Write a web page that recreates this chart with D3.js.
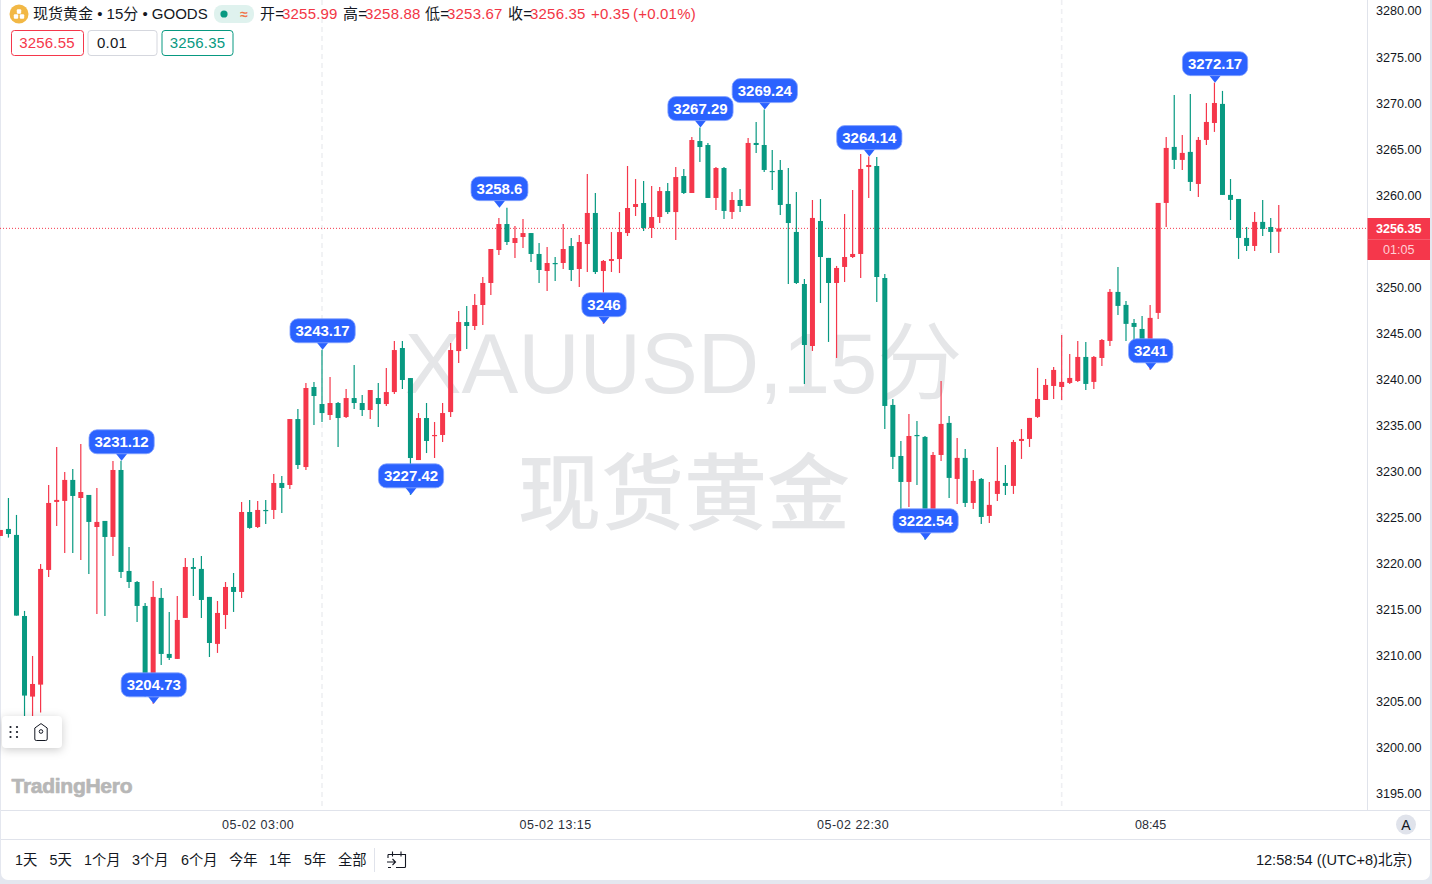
<!DOCTYPE html>
<html><head><meta charset="utf-8">
<script src="https://cdnjs.cloudflare.com/ajax/libs/d3/7.8.5/d3.min.js"></script>
<style>
html,body{margin:0;padding:0;background:#e4e7ef;overflow:hidden}
svg{display:block}
text{font-family:"Liberation Sans","Noto Sans CJK SC",sans-serif}
</style></head><body>
<svg id="c" width="1432" height="884"></svg>
<script>
const opens=[3222.96,3223.72,3223.07,3214.27,3205.52,3206.82,3219.27,3226.65,3226.76,3229.04,
3227.08,3227.41,3223.93,3224.59,3222.85,3230.12,3219.16,3217.96,3215.36,3206.00,
3216.23,3210.15,3209.61,3214.06,3219.59,3219.38,3216.34,3211.24,3214.38,3217.42,
3216.88,3225.56,3223.93,3225.78,3225.78,3228.71,3228.49,3235.65,3230.44,3239.13,
3237.28,3236.09,3237.39,3235.87,3237.93,3237.39,3236.63,3237.93,3237.28,3238.58,
3243.36,3240.10,3231.20,3235.76,3233.81,3233.92,3236.41,3243.03,3246.18,3245.75,
3248.03,3250.42,3254.00,3256.82,3254.76,3255.41,3255.84,3253.57,3251.72,3252.59,
3252.59,3254.43,3251.94,3254.65,3258.02,3251.72,3252.81,3253.02,3255.84,3258.67,
3259.10,3256.39,3257.58,3260.40,3258.12,3262.03,3260.19,3265.83,3265.40,3259.65,
3262.90,3258.13,3259.43,3258.78,3265.62,3265.40,3262.58,3262.69,3259.00,3255.96,
3250.31,3243.58,3257.15,3253.14,3250.42,3252.16,3253.24,3253.57,3263.01,3263.12,
3250.96,3237.18,3231.64,3228.82,3233.92,3233.71,3225.56,3231.75,3235.23,3229.15,
3231.43,3226.54,3229.15,3225.13,3227.52,3228.71,3228.39,3233.27,3233.49,3235.88,
3237.72,3239.24,3239.13,3239.57,3239.78,3242.39,3239.68,3242.28,3244.13,3249.45,
3248.04,3246.08,3245.43,3244.02,3247.17,3259.11,3265.19,3263.78,3264.65,3261.17,
3265.95,3267.79,3269.86,3259.98,3259.54,3255.31,3254.44,3257.05,3256.50,3255.99];
const closes=[3223.61,3223.17,3214.31,3205.63,3206.89,3219.38,3226.54,3226.87,3229.04,3227.30,
3227.73,3224.48,3224.48,3222.85,3230.12,3219.05,3217.96,3215.36,3206.24,3216.34,
3210.15,3209.72,3213.84,3219.59,3219.38,3216.01,3211.34,3214.60,3217.42,3216.88,
3225.56,3223.83,3225.78,3225.67,3228.71,3228.17,3235.65,3230.66,3239.02,3238.15,
3236.30,3237.39,3235.76,3237.93,3237.39,3236.63,3238.80,3237.28,3238.58,3243.14,
3239.89,3231.42,3235.76,3233.27,3233.92,3236.30,3243.14,3246.18,3245.75,3248.03,
3250.42,3254.11,3256.82,3254.87,3255.30,3255.84,3253.57,3251.83,3252.59,3252.48,
3254.11,3251.83,3254.87,3258.02,3251.61,3252.81,3253.02,3255.95,3258.56,3258.99,
3256.39,3257.58,3260.40,3258.12,3261.92,3260.19,3265.94,3265.18,3259.65,3262.90,
3258.24,3259.43,3258.78,3265.62,3265.40,3262.69,3262.47,3258.89,3256.93,3250.42,
3243.69,3257.48,3253.24,3250.42,3252.05,3253.24,3253.57,3262.80,3263.23,3251.07,
3237.07,3231.54,3228.82,3233.81,3233.81,3225.56,3231.75,3235.12,3229.26,3231.43,
3226.54,3228.93,3225.02,3226.33,3228.93,3228.39,3233.16,3233.49,3235.77,3237.83,
3239.35,3240.98,3239.68,3240.11,3242.39,3239.46,3242.39,3244.23,3249.45,3247.93,
3245.98,3245.65,3244.23,3246.63,3259.11,3265.08,3263.78,3264.54,3261.39,3265.95,
3267.90,3269.96,3259.98,3259.44,3255.31,3254.44,3257.05,3256.29,3255.96,3256.35];
const highs=[3223.61,3227.08,3225.24,3214.82,3209.93,3219.92,3228.49,3232.62,3229.90,3230.23,
3232.94,3227.41,3228.17,3224.59,3231.10,3231.12,3221.76,3218.07,3215.69,3218.07,
3217.31,3214.71,3216.45,3220.57,3220.57,3220.79,3216.34,3215.90,3217.96,3218.94,
3226.65,3226.87,3226.76,3226.86,3229.69,3229.47,3235.65,3236.74,3239.56,3239.67,
3243.17,3240.21,3237.50,3238.91,3241.51,3238.26,3238.80,3239.56,3241.19,3244.12,
3244.12,3240.10,3236.30,3237.39,3235.33,3237.39,3243.90,3247.38,3247.92,3249.23,
3251.07,3254.11,3257.47,3258.60,3256.60,3257.36,3255.84,3254.76,3254.33,3253.24,
3256.82,3255.30,3255.63,3262.25,3260.19,3252.91,3255.95,3258.12,3263.12,3261.71,
3261.49,3260.95,3260.84,3261.27,3263.01,3262.79,3266.26,3267.29,3265.62,3263.01,
3263.01,3260.30,3260.62,3266.16,3267.90,3269.24,3264.86,3263.77,3262.90,3260.30,
3250.86,3259.43,3259.54,3253.14,3252.27,3257.91,3260.52,3264.42,3264.14,3264.10,
3251.40,3237.83,3233.27,3236.20,3235.44,3233.81,3232.08,3239.78,3235.99,3233.60,
3232.40,3230.12,3229.26,3228.82,3232.62,3230.67,3233.38,3234.57,3235.77,3241.20,
3240.00,3241.30,3244.78,3242.72,3244.13,3244.02,3242.50,3244.34,3249.78,3252.16,
3248.47,3246.52,3246.84,3248.04,3259.11,3266.27,3270.83,3266.49,3270.94,3266.27,
3269.96,3272.17,3271.27,3261.71,3259.54,3256.50,3258.13,3259.44,3257.48,3258.88];
const lows=[3222.96,3222.78,3214.31,3202.50,3202.50,3203.78,3218.51,3224.04,3221.11,3221.11,
3220.35,3218.83,3214.49,3214.27,3220.79,3218.40,3217.31,3213.62,3205.50,3204.73,
3208.96,3209.50,3209.61,3214.06,3216.45,3214.06,3209.82,3210.26,3212.86,3214.71,
3216.23,3223.75,3223.83,3224.26,3224.80,3225.45,3228.06,3230.23,3230.12,3235.00,
3235.33,3235.55,3232.61,3235.76,3236.74,3235.98,3235.65,3234.79,3237.06,3238.37,
3238.91,3227.42,3231.20,3231.96,3231.42,3233.16,3235.87,3241.73,3243.25,3245.31,
3245.86,3249.12,3253.46,3254.54,3253.13,3254.22,3252.70,3250.42,3249.55,3250.64,
3251.94,3250.64,3249.98,3251.61,3251.39,3246.00,3251.61,3251.50,3255.52,3257.69,
3256.06,3255.30,3256.93,3257.91,3255.09,3260.08,3260.19,3263.56,3259.65,3258.35,
3257.37,3257.37,3258.13,3258.78,3264.53,3262.47,3260.52,3257.80,3250.31,3250.31,
3239.46,3243.04,3248.25,3244.02,3242.28,3250.53,3253.14,3250.96,3259.65,3248.36,
3234.57,3230.23,3225.67,3226.11,3228.50,3222.54,3225.40,3231.10,3227.09,3226.43,
3226.11,3225.89,3224.26,3224.37,3226.76,3227.41,3227.52,3231.32,3232.62,3235.77,
3237.72,3237.83,3237.72,3239.46,3239.68,3238.81,3238.92,3241.41,3243.59,3246.95,
3244.13,3244.24,3243.50,3241.00,3246.52,3256.50,3262.80,3262.69,3260.41,3259.76,
3265.40,3266.82,3259.98,3257.26,3253.03,3253.90,3253.90,3255.53,3253.68,3253.67];
const yTicks=[3195,3200,3205,3210,3215,3220,3225,3230,3235,3240,3245,3250,3260,3265,3270,3275,3280];
const xTickIdx=[32,69,106,143];
const xTickLabels=["05-02 03:00","05-02 13:15","05-02 22:30","08:45"];
const gridIdx=[40,132];
const calloutIdx=[15,19,40,51,62,75,87,95,108,115,143,151];
const calloutVal=[3231.12,3204.73,3243.17,3227.42,3258.6,3246,3267.29,3269.24,3264.14,3222.54,3241,3272.17];
const calloutTxt=["3231.12","3204.73","3243.17","3227.42","3258.6","3246","3267.29","3269.24","3264.14","3222.54","3241","3272.17"];
const lastPrice=3256.35;
const rangeLabels=["1天","5天","1个月","3个月","6个月","今年","1年","5年","全部"];
const rangeX=[15,49.5,84,132,181,229,269,304,338];
const ohlcLabels=[["开=","#131722",260],["3255.99","#f23645",282],["高=","#131722",343],["3258.88","#f23645",365],["低=","#131722",425],["3253.67","#f23645",447],["收=","#131722",508],["3256.35","#f23645",530],["+0.35","#f23645",591],["(+0.01%)","#f23645",633]];

const RED="#f5374b",GREEN="#089981",LINE="#e0e3eb",INK="#131722",BLUE="#2b62ff";
const svg=d3.select("#c");
const x=d3.scalePoint().domain(d3.range(opens.length)).range([0.4,0.4+8.04*(opens.length-1)]);
const y=d3.scaleLinear().domain([3195,3280]).range([793.5,10.5]);

// panel
svg.append("rect").attr("x",1).attr("y",-10).attr("width",1429).attr("height",890).attr("rx",7).attr("fill","#fff");

// grid
svg.append("g").selectAll("line").data(gridIdx).join("line")
 .attr("x1",d=>x(d)).attr("x2",d=>x(d)).attr("y1",0).attr("y2",810)
 .attr("stroke","#eeeff2").attr("stroke-width",1.6).attr("stroke-dasharray","5 4");

// watermark
svg.append("text").attr("x",683.5).attr("y",393).attr("text-anchor","middle").attr("font-size",85).attr("fill","#e5e6e8").text("XAUUSD,15分");
svg.append("text").attr("x",684).attr("y",523).attr("text-anchor","middle").attr("font-size",83).attr("font-weight",500).attr("fill","#e5e6e8").text("现货黄金");

// price line
svg.append("line").attr("x1",0).attr("x2",1367).attr("y1",y(lastPrice)).attr("y2",y(lastPrice))
 .attr("stroke",RED).attr("stroke-width",1).attr("stroke-dasharray","1 2");

// candles
const idx=d3.range(opens.length);
const col=i=>closes[i]>=opens[i]?RED:GREEN;
const cg=svg.append("g");
cg.selectAll("line").data(idx).join("line")
 .attr("x1",i=>x(i)).attr("x2",i=>x(i)).attr("y1",i=>y(highs[i])).attr("y2",i=>y(lows[i]))
 .attr("stroke",col).attr("stroke-width",1.2);
cg.selectAll("rect").data(idx).join("rect")
 .attr("x",i=>x(i)-2.5).attr("width",5)
 .attr("y",i=>y(Math.max(opens[i],closes[i])))
 .attr("height",i=>Math.max(1.2,Math.abs(y(opens[i])-y(closes[i]))))
 .attr("fill",col);

// callouts
const cog=svg.append("g").selectAll("g").data(d3.range(calloutIdx.length)).join("g")
 .attr("transform",k=>`translate(${x(calloutIdx[k])+0.6},${y(calloutVal[k])})`);
cog.append("path").attr("d","M-6,-7.5L0,0L6,-7.5Z").attr("fill",BLUE);
cog.append("rect").attr("y",-31).attr("height",24).attr("rx",8)
 .attr("fill",BLUE).attr("stroke","#85a3ff").attr("stroke-width",0.8);
const coTxt=cog.append("text").attr("y",-13.8).attr("text-anchor","middle").attr("font-size",15).attr("font-weight",700).attr("fill","#fff").text(k=>calloutTxt[k]);
coTxt.each(function(k){const w=this.getComputedTextLength()+11;
 d3.select(this.parentNode).select("rect").attr("x",-w/2).attr("width",w);});

// right axis
svg.append("rect").attr("x",1367).attr("y",0).attr("width",63).attr("height",810).attr("fill","#fff");
svg.append("line").attr("x1",1367.5).attr("x2",1367.5).attr("y1",0).attr("y2",810).attr("stroke",LINE);
const yAxis=svg.append("g").attr("transform","translate(1368,0.4)")
 .call(d3.axisRight(y).tickValues(yTicks).tickFormat(d3.format(".2f")).tickSize(0).tickPadding(8));
yAxis.select(".domain").remove();
yAxis.selectAll("text").attr("font-size",12.6).attr("font-family",null).attr("fill",INK);

// price tag
svg.append("rect").attr("x",1367.5).attr("y",218).attr("width",62.5).attr("height",42).attr("fill",RED);
svg.append("line").attr("x1",1367.5).attr("x2",1430).attr("y1",239.5).attr("y2",239.5).attr("stroke","#f7707f").attr("stroke-width",0.6);
svg.append("text").attr("x",1398.7).attr("y",233).attr("text-anchor","middle").attr("font-size",12.6).attr("font-weight",700).attr("fill","#fff").text(d3.format(".2f")(lastPrice));
svg.append("text").attr("x",1398.7).attr("y",254).attr("text-anchor","middle").attr("font-size",12.6).attr("fill","#ffd0d5").text("01:05");

// x axis
svg.append("line").attr("x1",1).attr("x2",1430).attr("y1",810.5).attr("y2",810.5).attr("stroke",LINE);
svg.append("line").attr("x1",1).attr("x2",1430).attr("y1",839.5).attr("y2",839.5).attr("stroke",LINE);
const xAxis=svg.append("g").attr("transform","translate(0,811.4)")
 .call(d3.axisBottom(x).tickValues(xTickIdx).tickFormat((d,i)=>xTickLabels[i]).tickSize(0).tickPadding(9));
xAxis.select(".domain").remove();
xAxis.selectAll("text").attr("font-size",12.5).attr("font-family",null).attr("fill","#2a2e39")
 .attr("letter-spacing",(d,i)=>xTickLabels[i].length>5?0.5:0);
svg.append("circle").attr("cx",1406).attr("cy",824.5).attr("r",10).attr("fill","#e0e3eb");
svg.append("text").attr("x",1406).attr("y",829.5).attr("text-anchor","middle").attr("font-size",14).attr("fill",INK).text("A");

// legend
svg.append("circle").attr("cx",19).attr("cy",14).attr("r",9.5).attr("fill","#f2b845");
[[16,16.5],[22,16.5],[19,11.5]].forEach(p=>svg.append("rect").attr("x",p[0]-2.2).attr("y",p[1]-2.2).attr("width",4.4).attr("height",4.4).attr("rx",1).attr("fill","#fff"));
svg.append("text").attr("x",33).attr("y",19).attr("font-size",15).attr("fill",INK).text("现货黄金 • 15分 • GOODS");
svg.append("rect").attr("x",214).attr("y",5).attr("width",40).attr("height",18).attr("rx",8).attr("fill","#dff2ee");
svg.append("circle").attr("cx",224).attr("cy",14).attr("r",3.6).attr("fill",GREEN);
svg.append("text").attr("x",244).attr("y",18.5).attr("text-anchor","middle").attr("font-size",14).attr("font-weight",700).attr("fill","#f0744a").text("≈");
svg.append("g").selectAll("text").data(ohlcLabels).join("text")
 .attr("x",d=>d[2]).attr("y",19).attr("font-size",15).attr("letter-spacing",0.2).attr("fill",d=>d[1]).text(d=>d[0]);

const btns=[[11.5,72,"3256.55","#f5374b","#f5374b",47,"middle"],[88,69,"0.01","#d5d7de",INK,97,"start"],[162,71,"3256.35",GREEN,GREEN,197.5,"middle"]];
btns.forEach(b=>{
 svg.append("rect").attr("x",b[0]).attr("y",30.5).attr("width",b[1]).attr("height",25).attr("rx",3).attr("fill","#fff").attr("stroke",b[3]);
 svg.append("text").attr("x",b[5]).attr("y",48).attr("text-anchor",b[6]).attr("font-size",15).attr("letter-spacing",0.2).attr("fill",b[4]).text(b[2]);
});

// drawing toolbar
svg.append("rect").attr("x",2).attr("y",716).attr("width",60).attr("height",32).attr("rx",4).attr("fill","#fff").style("filter","drop-shadow(0 2px 5px rgba(0,0,0,.2))");
[10.5,17].forEach(cx=>[727,732,737].forEach(cy=>svg.append("circle").attr("cx",cx).attr("cy",cy).attr("r",1.1).attr("fill",INK)));
svg.append("path").attr("d","M34.8,739V728L41,723.6L47.2,728V739Q47.2,740.5 45.7,740.5H36.3Q34.8,740.5 34.8,739Z").attr("fill","none").attr("stroke",INK).attr("stroke-width",1);
svg.append("circle").attr("cx",41).attr("cy",731.5).attr("r",1.8).attr("fill","none").attr("stroke",INK).attr("stroke-width",1);

// logo
svg.append("text").attr("x",11.5).attr("y",793).attr("font-family","Lato,sans-serif").attr("font-weight",900).attr("font-size",21).attr("textLength",121).attr("lengthAdjust","spacing").attr("fill","#b7b7b7").attr("stroke","#b7b7b7").attr("stroke-width",0.7).attr("stroke-linejoin","round").text("TradingHero");

// range bar
svg.append("g").selectAll("text").data(rangeLabels).join("text")
 .attr("x",(d,i)=>rangeX[i]).attr("y",865).attr("font-size",14.3).attr("fill",INK).text(d=>d);
svg.append("line").attr("x1",374.5).attr("x2",374.5).attr("y1",848).attr("y2",872).attr("stroke",LINE);
svg.append("path").attr("d","M388,854.5H405.5V866.5Q405.5,867.5 404.5,867.5H396M388,854.5V858M392.5,851.5V856.5M401,851.5V856.5M387,862H395M392.5,859L395.5,862L392.5,865M388,867.5H391").attr("fill","none").attr("stroke",INK).attr("stroke-width",1.1);
svg.append("text").attr("x",1412).attr("y",865).attr("text-anchor","end").attr("font-size",14.6).attr("fill",INK).text("12:58:54 ((UTC+8)北京)");
</script>
</body></html>
